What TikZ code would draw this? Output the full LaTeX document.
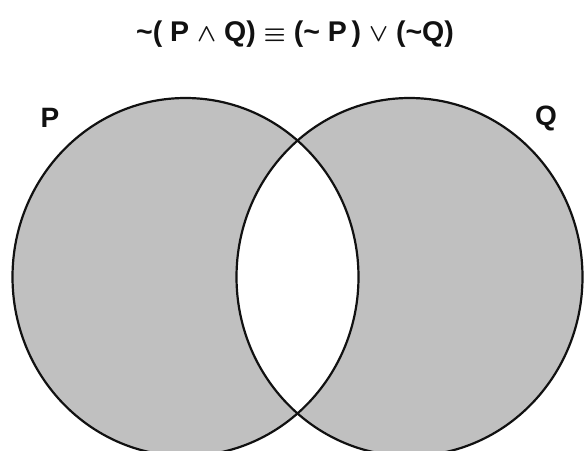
\documentclass[tikz,border=0pt]{standalone}
\usepackage{fontspec}
\setmainfont{Liberation Sans}
\usepackage{amsmath,amssymb,bm}
\usepackage{xcolor}
\usetikzlibrary{positioning,shapes.geometric}
\definecolor{ink}{HTML}{111111}
\definecolor{setgray}{HTML}{C0C0C0}

\begin{document}
\begin{tikzpicture}[x=1pt,y=-1pt]
    \tikzset{
      setshape/.style={ellipse,minimum width=346pt,minimum height=358pt,inner sep=0pt},
      rim/.style={draw=ink,line width=2.2pt},
      setlabel/.style={font=\fontsize{28}{30}\selectfont\bfseries,text=ink,inner sep=0pt},
      headline/.style={font=\fontsize{28.5}{32}\selectfont\bfseries,text=ink,inner sep=0pt}
    }
    \useasboundingbox (0,0) rectangle (586,450);
    \clip (0,0) rectangle (586,450);
    % the two sets
    \node[setshape] (setP) at (185.5,277) {};
    \node[setshape] (setQ) at (409.5,277) {};
    \fill[setgray] (setP.center) ellipse [x radius=173pt,y radius=179pt];
    \fill[setgray] (setQ.center) ellipse [x radius=173pt,y radius=179pt];
    \begin{scope}
      \clip (setP.center) ellipse [x radius=173pt,y radius=179pt];
      \fill[white] (setQ.center) ellipse [x radius=173pt,y radius=179pt];
    \end{scope}
    \draw[rim] (setP.center) ellipse [x radius=173pt,y radius=179pt];
    \draw[rim] (setQ.center) ellipse [x radius=173pt,y radius=179pt];
    % labels
    \node[setlabel] (labP) at (50,118) {P};
    \node[setlabel] (labQ) at (546,118) {Q};
    \node[headline] (title) at (295,34) {\textasciitilde( P $\bm{\wedge}$ Q) $\bm{\equiv}$ (\textasciitilde\ P\,) $\bm{\vee}$ (\textasciitilde Q)};
  \end{tikzpicture}
\end{document}
